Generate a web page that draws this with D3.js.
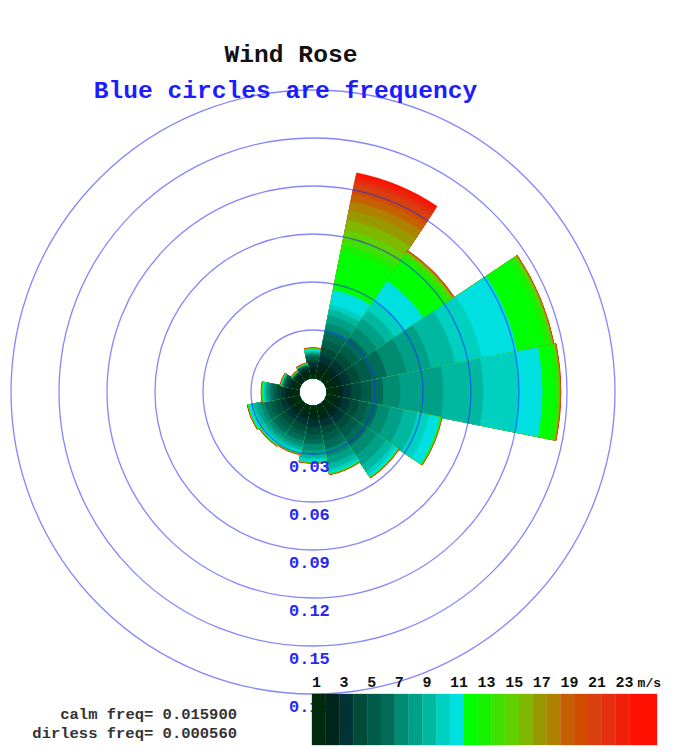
<!DOCTYPE html>
<html>
<head>
<meta charset="utf-8">
<script src="https://cdn.jsdelivr.net/npm/d3@7"></script>
<style>
  html, body { margin: 0; padding: 0; background: #ffffff; }
  svg { display: block; }
</style>
</head>
<body>
<svg id="chart" width="674" height="755"></svg>
<script>
// Compass sectors, clockwise from north
const directions = ["N", "NNE", "NE", "ENE", "E", "ESE", "SE", "SSE",
                    "S", "SSW", "SW", "WSW", "W", "WNW", "NW", "NNW"];

// Speed classes (m/s) and their colours
const speedBins = d3.range(1, 25);
const speedColors = [
  "#002a0c", "#00261c", "#003434", "#004a3a", "#005c48", "#006c58",
  "#008a70", "#00a088", "#00b8a0", "#00d0c0", "#00e0e0", "#00ff00",
  "#18f200", "#40e000", "#60d000", "#80b800", "#989800", "#b08000",
  "#c46000", "#d04c00", "#d84010", "#e43010", "#f02008", "#ff1000"
];
const speedTicks = ["1", "3", "5", "7", "9", "11", "13", "15", "17", "19", "21", "23"];
const speedUnit = "m/s";

// Frequency rings
const ringLevels = [0.03, 0.06, 0.09, 0.12, 0.15, 0.18];
const ringLabels = ["0.03", "0.06", "0.09", "0.12", "0.15", "0.18"];

// Frequency of each speed class (bins 1..24) for every direction
const freqN   = [0.0038, 0.0031, 0.0025, 0.0019, 0.0016, 0.0013, 0.0009, 0.0006, 0.0006, 0.0006, 0.0009, 0.0003,
                 0.00006, 0.00006, 0.00006, 0.00006, 0.00006, 0.00006, 0.00006, 0.0001, 0.0001, 0.0001, 0.0001, 0.00006];
const freqNNE = [0.0050, 0.0050, 0.0044, 0.0050, 0.0050, 0.0050, 0.0056, 0.0050, 0.0038, 0.0031, 0.0094, 0.0244,
                 0.0044, 0.0044, 0.0050, 0.0063, 0.0063, 0.0056, 0.0044, 0.0038, 0.0031, 0.0025, 0.0025, 0.0019];
const freqNE  = [0.0050, 0.0050, 0.0050, 0.0056, 0.0056, 0.0063, 0.0069, 0.0069, 0.0063, 0.0075, 0.0144, 0.0156,
                 0.0031, 0.0019, 0.0009, 0.0005, 0.0003, 0.00025, 0.0002, 0.00013, 0.0001, 0.0001, 0.00006, 0.00006];
const freqENE = [0.0050, 0.0050, 0.0050, 0.0063, 0.0075, 0.0094, 0.0125, 0.0156, 0.0156, 0.0169, 0.0225, 0.0175,
                 0.0031, 0.0013, 0.0006, 0.0003, 0.0002, 0.00013, 0.00013, 0.00013, 0.00006, 0.00006, 0.00006, 0.00006];
const freqE   = [0.0050, 0.0050, 0.0050, 0.0063, 0.0063, 0.0075, 0.0106, 0.0269, 0.0250, 0.0219, 0.0150, 0.0075,
                 0.0022, 0.0006, 0.0003, 0.00025, 0.0002, 0.00013, 0.00013, 0.0001, 0.0001, 0.00006, 0.00006, 0.00006];
const freqESE = [0.0050, 0.0050, 0.0050, 0.0056, 0.0056, 0.0063, 0.0075, 0.0088, 0.0088, 0.0075, 0.0069, 0.0006,
                 0.00006, 0.00006, 0.00006, 0.00006, 0.00006, 0.00006, 0.00006, 0.0001, 0.0001, 0.0001, 0.0001, 0.00006];
const freqSE  = [0.0050, 0.0050, 0.0050, 0.0050, 0.0056, 0.0063, 0.0069, 0.0069, 0.0050, 0.0025, 0.0016, 0.0003,
                 0.00006, 0.00006, 0.00006, 0.00006, 0.00006, 0.00006, 0.00006, 0.0001, 0.0001, 0.0001, 0.0001, 0.00006];
const freqSSE = [0.0050, 0.0044, 0.0044, 0.0044, 0.0044, 0.0050, 0.0050, 0.0044, 0.0031, 0.0019, 0.0009, 0.0003,
                 0.00006, 0.00006, 0.00006, 0.00006, 0.00006, 0.00006, 0.00006, 0.0001, 0.0001, 0.0001, 0.0001, 0.00006];
const freqS   = [0.0044, 0.0044, 0.0044, 0.0044, 0.0031, 0.0031, 0.0038, 0.0031, 0.0019, 0.0013, 0.0009, 0.0003,
                 0.00006, 0.00006, 0.00006, 0.00006, 0.00006, 0.00006, 0.00006, 0.0001, 0.0001, 0.0001, 0.0001, 0.00006];
const freqSSW = [0.0044, 0.0038, 0.0038, 0.0038, 0.0031, 0.0031, 0.0025, 0.0019, 0.0016, 0.0013, 0.0009, 0.0003,
                 0.00006, 0.00006, 0.00006, 0.00006, 0.00006, 0.00006, 0.00006, 0.0001, 0.0001, 0.0001, 0.0001, 0.00006];
const freqSW  = [0.0044, 0.0038, 0.0038, 0.0038, 0.0031, 0.0031, 0.0025, 0.0019, 0.0019, 0.0013, 0.0013, 0.0003,
                 0.00006, 0.00006, 0.00006, 0.00006, 0.00006, 0.00006, 0.00006, 0.0001, 0.0001, 0.0001, 0.0001, 0.00006];
const freqWSW = [0.0044, 0.0038, 0.0038, 0.0038, 0.0031, 0.0031, 0.0025, 0.0025, 0.0019, 0.0019, 0.0013, 0.0003,
                 0.00006, 0.00006, 0.00006, 0.00006, 0.00006, 0.00006, 0.00006, 0.0001, 0.0001, 0.0001, 0.0001, 0.00006];
const freqW   = [0.0044, 0.0038, 0.0031, 0.0025, 0.0019, 0.0019, 0.0016, 0.0013, 0.0009, 0.0006, 0.0006, 0.0003,
                 0.00006, 0.00006, 0.00006, 0.00006, 0.00006, 0.00006, 0.00006, 0.0001, 0.0001, 0.0001, 0.0001, 0.00006];
const freqWNW = [0.0031, 0.0025, 0.0019, 0.0013, 0.0009, 0.0006, 0.0003, 0.00025, 0.0002, 0.00013, 0.00006, 0.0003,
                 0.00006, 0.00006, 0.00006, 0.00006, 0.00006, 0.00006, 0.00006, 0.0001, 0.0001, 0.0001, 0.0001, 0.00006];
const freqNW  = [0.0025, 0.0019, 0.0009, 0.0006, 0.0003, 0.00025, 0.00013, 0.0001, 0.00006, 0.00006, 0.00003, 0.0003,
                 0.00006, 0.00006, 0.00006, 0.00006, 0.00006, 0.00006, 0.00006, 0.0001, 0.0001, 0.0001, 0.0001, 0.00006];
const freqNNW = [0.0031, 0.0022, 0.0013, 0.00075, 0.0005, 0.0003, 0.00025, 0.00013, 0.00013, 0.00006, 0.00006, 0.0003,
                 0.00006, 0.00006, 0.00006, 0.00006, 0.00006, 0.00006, 0.00006, 0.0001, 0.0001, 0.0001, 0.0001, 0.00006];

const freqByDirection = [freqN, freqNNE, freqNE, freqENE, freqE, freqESE, freqSE, freqSSE,
                         freqS, freqSSW, freqSW, freqWSW, freqW, freqWNW, freqNW, freqNNW];

const calmFreq = "0.015900";
const dirlessFreq = "0.000560";

// ---------------------------------------------------------------------------
const svg = d3.select("#chart");
const mono = "'Liberation Mono', 'DejaVu Sans Mono', monospace";
const cx = 313, cy = 392;

// Radius grows linearly with frequency, starting outside the central hole
const rScale = d3.scaleLinear().domain([0, 0.18]).range([14, 302]);
const sector = 360 / directions.length;
const rad = d => d * Math.PI / 180;

const rose = svg.append("g").attr("transform", `translate(${cx},${cy})`);

// Petals: each speed class stacked outward; larger cumulative wedges are painted first
directions.forEach((dir, i) => {
  const cum = d3.cumsum(freqByDirection[i]);
  const arc = d3.arc()
    .innerRadius(rScale(0))
    .startAngle(rad(i * sector - sector / 2))
    .endAngle(rad(i * sector + sector / 2));
  const layers = speedBins.map((b, k) => ({ bin: b, k, total: cum[k] })).reverse();
  rose.append("g").attr("class", "petal-" + dir)
    .selectAll("path")
    .data(layers)
    .join("path")
    .attr("d", d => arc.outerRadius(rScale(d.total))())
    .attr("fill", d => speedColors[d.k])
    .attr("stroke", d => speedColors[d.k])
    .attr("stroke-width", 0.4);
});

// Frequency circles
rose.append("g")
  .selectAll("circle")
  .data(ringLevels)
  .join("circle")
  .attr("r", d => rScale(d))
  .attr("fill", "none")
  .attr("stroke", "#2020ff")
  .attr("stroke-opacity", 0.55)
  .attr("stroke-width", 1.3);

// Ring labels under each circle
rose.append("g")
  .selectAll("text")
  .data(ringLevels)
  .join("text")
  .attr("x", -24)
  .attr("y", d => rScale(d) + 17.5)
  .attr("font-family", mono)
  .attr("font-weight", "bold")
  .attr("font-size", 17)
  .attr("fill", "#2828f4")
  .text((d, i) => ringLabels[i]);

// Titles
svg.append("text")
  .attr("x", 291).attr("y", 62)
  .attr("text-anchor", "middle")
  .attr("font-family", mono).attr("font-weight", "bold").attr("font-size", 24.6)
  .attr("fill", "#111")
  .text("Wind Rose");

svg.append("text")
  .attr("x", 285.5).attr("y", 98)
  .attr("text-anchor", "middle")
  .attr("font-family", mono).attr("font-weight", "bold").attr("font-size", 24.6)
  .attr("fill", "#1c1cff")
  .text("Blue circles are frequency");

// Speed colour bar
const speedScale = d3.scaleLinear().domain([1, 26]).range([312, 657]);
const bar = svg.append("g");
bar.selectAll("rect")
  .data(speedBins)
  .join("rect")
  .attr("x", d => speedScale(d))
  .attr("y", 694)
  .attr("width", d => (d === speedBins.length ? speedScale(26) : speedScale(d + 1)) - speedScale(d))
  .attr("height", 51)
  .attr("fill", (d, i) => speedColors[i])
  .attr("stroke", (d, i) => speedColors[i])
  .attr("stroke-width", 0.3);

bar.selectAll("text.tick")
  .data(speedTicks)
  .join("text")
  .attr("class", "tick")
  .attr("x", d => speedScale(+d))
  .attr("y", 687)
  .attr("font-family", mono).attr("font-weight", "bold").attr("font-size", 15)
  .attr("fill", "#111")
  .text(d => d);

bar.append("text")
  .attr("x", speedScale(23) + 22)
  .attr("y", 687)
  .attr("font-family", mono).attr("font-weight", "bold").attr("font-size", 13)
  .attr("fill", "#111")
  .text(speedUnit);

// Calm / direction-less summary
const notes = svg.append("g")
  .attr("font-family", mono).attr("font-weight", "bold").attr("font-size", 15.5)
  .attr("fill", "#333").attr("text-anchor", "end");
notes.append("text").attr("x", 237).attr("y", 719).text("calm freq= " + calmFreq);
notes.append("text").attr("x", 237).attr("y", 737.5).text("dirless freq= " + dirlessFreq);
</script>
</body>
</html>
